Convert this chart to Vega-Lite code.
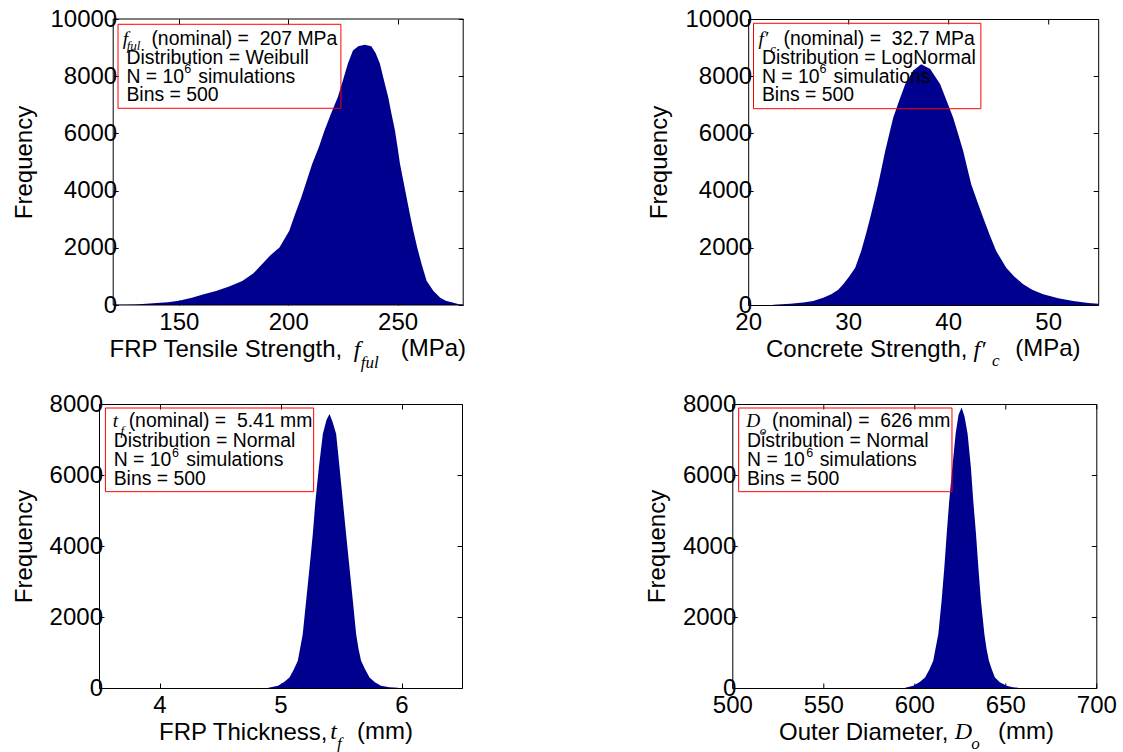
{
  "$schema": "https://vega.github.io/schema/vega-lite/v6.json",
  "background": "white",
  "padding": {"left": 11, "top": 6, "right": 5, "bottom": 5},
  "config": {
    "view": {"stroke": "#000000", "strokeWidth": 1},
    "font": "Liberation Sans",
    "axis": {"grid": false, "domain": false, "tickColor": "#000000", "tickSize": -5, "tickWidth": 1, "labelFont": "Liberation Sans", "labelFontSize": 24, "labelColor": "#000000", "labelFlush": false, "labelOverlap": false, "format": "d", "titleFont": "Liberation Sans", "titleFontSize": 24, "titleFontWeight": "normal", "titleColor": "#000000"},
    "axisX": {"labelPadding": 10},
    "axisY": {"labelPadding": 1.5},
    "text": {"font": "Liberation Sans", "color": "#000000"}
  },
  "datasets": {
    "ful": [
      {"value": 120, "frequency": 5}, {"value": 125, "frequency": 10}, {"value": 130, "frequency": 20}, {"value": 135, "frequency": 40}, {"value": 140, "frequency": 70}, {"value": 145, "frequency": 100}, {"value": 150, "frequency": 150}, {"value": 156, "frequency": 257}, {"value": 161, "frequency": 370}, {"value": 167, "frequency": 491}, {"value": 173, "frequency": 650}, {"value": 179, "frequency": 842}, {"value": 184, "frequency": 1100}, {"value": 188, "frequency": 1427}, {"value": 192, "frequency": 1750}, {"value": 196, "frequency": 2011}, {"value": 200.5, "frequency": 2596}, {"value": 203, "frequency": 3150}, {"value": 206, "frequency": 3765}, {"value": 208.5, "frequency": 4350}, {"value": 211, "frequency": 4937}, {"value": 214, "frequency": 5520}, {"value": 216.6, "frequency": 6105}, {"value": 219.6, "frequency": 6700}, {"value": 222.7, "frequency": 7275}, {"value": 225, "frequency": 7850}, {"value": 227.3, "frequency": 8446}, {"value": 229.6, "frequency": 8900}, {"value": 232, "frequency": 9050}, {"value": 235, "frequency": 9100}, {"value": 238, "frequency": 9050}, {"value": 240, "frequency": 8800}, {"value": 241.9, "frequency": 8446}, {"value": 243.8, "frequency": 7850}, {"value": 245.7, "frequency": 7275}, {"value": 247.2, "frequency": 6700}, {"value": 248.8, "frequency": 6105}, {"value": 250, "frequency": 5520}, {"value": 251.1, "frequency": 4937}, {"value": 252.6, "frequency": 4350}, {"value": 254.1, "frequency": 3765}, {"value": 255.6, "frequency": 3180}, {"value": 257.2, "frequency": 2596}, {"value": 259, "frequency": 2000}, {"value": 261, "frequency": 1427}, {"value": 263.3, "frequency": 842}, {"value": 266.4, "frequency": 491}, {"value": 269.5, "frequency": 257}, {"value": 272, "frequency": 150}, {"value": 275.6, "frequency": 80}, {"value": 278, "frequency": 30}, {"value": 280, "frequency": 10}
    ],
    "fc": [
      {"value": 22.5, "frequency": 10}, {"value": 24.2, "frequency": 40}, {"value": 25.5, "frequency": 90}, {"value": 26.5, "frequency": 140}, {"value": 27.5, "frequency": 250}, {"value": 28.3, "frequency": 374}, {"value": 29, "frequency": 530}, {"value": 29.5, "frequency": 724}, {"value": 30.1, "frequency": 1000}, {"value": 30.7, "frequency": 1304}, {"value": 31.3, "frequency": 1888}, {"value": 31.75, "frequency": 2450}, {"value": 32.2, "frequency": 3052}, {"value": 32.6, "frequency": 3630}, {"value": 33.0, "frequency": 4220}, {"value": 33.35, "frequency": 4800}, {"value": 33.7, "frequency": 5385}, {"value": 34.1, "frequency": 5970}, {"value": 34.5, "frequency": 6549}, {"value": 35.1, "frequency": 7150}, {"value": 35.7, "frequency": 7717}, {"value": 36.5, "frequency": 8200}, {"value": 37.3, "frequency": 8416}, {"value": 38.2, "frequency": 8250}, {"value": 39.2, "frequency": 7717}, {"value": 39.85, "frequency": 7130}, {"value": 40.5, "frequency": 6549}, {"value": 41, "frequency": 5970}, {"value": 41.5, "frequency": 5385}, {"value": 41.9, "frequency": 4800}, {"value": 42.3, "frequency": 4220}, {"value": 42.9, "frequency": 3630}, {"value": 43.5, "frequency": 3052}, {"value": 44.15, "frequency": 2450}, {"value": 44.8, "frequency": 1888}, {"value": 45.8, "frequency": 1304}, {"value": 46.6, "frequency": 1000}, {"value": 47.5, "frequency": 724}, {"value": 48.4, "frequency": 530}, {"value": 49.5, "frequency": 374}, {"value": 51, "frequency": 240}, {"value": 52.5, "frequency": 140}, {"value": 54, "frequency": 70}, {"value": 55, "frequency": 40}
    ],
    "tf": [
      {"value": 4.9, "frequency": 5}, {"value": 4.98, "frequency": 65}, {"value": 5.03, "frequency": 170}, {"value": 5.074, "frequency": 299}, {"value": 5.11, "frequency": 520}, {"value": 5.143, "frequency": 769}, {"value": 5.164, "frequency": 1150}, {"value": 5.184, "frequency": 1521}, {"value": 5.198, "frequency": 1990}, {"value": 5.212, "frequency": 2459}, {"value": 5.226, "frequency": 2928}, {"value": 5.24, "frequency": 3397}, {"value": 5.267, "frequency": 4338}, {"value": 5.289, "frequency": 5276}, {"value": 5.317, "frequency": 6214}, {"value": 5.35, "frequency": 7155}, {"value": 5.38, "frequency": 7550}, {"value": 5.405, "frequency": 7718}, {"value": 5.43, "frequency": 7500}, {"value": 5.46, "frequency": 7155}, {"value": 5.488, "frequency": 6214}, {"value": 5.515, "frequency": 5276}, {"value": 5.542, "frequency": 4338}, {"value": 5.57, "frequency": 3397}, {"value": 5.598, "frequency": 2459}, {"value": 5.625, "frequency": 1521}, {"value": 5.645, "frequency": 1100}, {"value": 5.666, "frequency": 769}, {"value": 5.7, "frequency": 520}, {"value": 5.736, "frequency": 299}, {"value": 5.78, "frequency": 160}, {"value": 5.83, "frequency": 65}, {"value": 5.9, "frequency": 20}, {"value": 5.97, "frequency": 5}
    ],
    "do": [
      {"value": 595, "frequency": 5}, {"value": 599.5, "frequency": 65}, {"value": 603, "frequency": 170}, {"value": 605.9, "frequency": 299}, {"value": 608.3, "frequency": 520}, {"value": 610.4, "frequency": 769}, {"value": 611.8, "frequency": 1150}, {"value": 613.2, "frequency": 1521}, {"value": 614.1, "frequency": 1990}, {"value": 615, "frequency": 2459}, {"value": 615.75, "frequency": 2928}, {"value": 616.5, "frequency": 3397}, {"value": 617.8, "frequency": 4338}, {"value": 619.2, "frequency": 5276}, {"value": 620.9, "frequency": 6214}, {"value": 622.7, "frequency": 7155}, {"value": 624.3, "frequency": 7700}, {"value": 626, "frequency": 7904}, {"value": 627.6, "frequency": 7650}, {"value": 629.3, "frequency": 7155}, {"value": 631.1, "frequency": 6214}, {"value": 632.4, "frequency": 5276}, {"value": 633.9, "frequency": 4338}, {"value": 635.2, "frequency": 3397}, {"value": 636.6, "frequency": 2459}, {"value": 638.5, "frequency": 1521}, {"value": 639.7, "frequency": 1100}, {"value": 641, "frequency": 769}, {"value": 642.6, "frequency": 520}, {"value": 644.3, "frequency": 299}, {"value": 647, "frequency": 160}, {"value": 650.7, "frequency": 65}, {"value": 654, "frequency": 20}, {"value": 657, "frequency": 5}
    ]
  },
  "spacing": 19,
  "vconcat": [
    {
      "spacing": 180.2,
      "hconcat": [
        {
          "width": 364.2, "height": 286,
          "view": {"stroke": null},
          "resolve": {"axis": {"x": "independent", "y": "independent"}},
          "layer": [
            {
              "layer": [
                {"data": {"name": "ful"}, "mark": {"type": "area", "color": "#00008F", "interpolate": "linear"},
                 "encoding": {
                   "x": {"field": "value", "type": "quantitative", "scale": {"domain": [113.51, 280], "nice": false, "zero": false}, "axis": {"values": [150, 200, 250], "title": "FRP Tensile Strength,", "titleAlign": "right", "titleX": 242.7, "titleY": 51, "titleBaseline": "alphabetic"}},
                   "y": {"field": "frequency", "type": "quantitative", "scale": {"domain": [0, 10000], "nice": false}, "axis": {"values": [0, 2000, 4000, 6000, 8000, 10000], "title": "Frequency", "titlePadding": 13, "offset": -14.2}}
                 }},
                {"data": {"values": [{}]}, "mark": {"type": "rect", "fill": "#ffffff", "fillOpacity": 0, "stroke": "#000000", "strokeWidth": 1},
                 "encoding": {"x": {"datum": 120}, "x2": {"datum": 280}, "y": {"datum": 0}, "y2": {"datum": 10000}}},
                {"data": {"values": [{}]}, "mark": {"type": "rect", "fill": "#ffffff", "fillOpacity": 0, "stroke": "#ff0000", "strokeWidth": 1},
                 "encoding": {"x": {"datum": 122.2}, "x2": {"datum": 224.1}, "y": {"datum": 9815}, "y2": {"datum": 6878}}},
                {"data": {"values": [{}]}, "mark": {"type": "text", "text": "f", "font": "Liberation Serif", "fontStyle": "italic", "fontSize": 19.4, "align": "left", "baseline": "alphabetic"},
                 "encoding": {"x": {"datum": 124.34}, "y": {"datum": 9091}}},
                {"data": {"values": [{}]}, "mark": {"type": "text", "text": "ful", "font": "Liberation Serif", "fontStyle": "italic", "fontSize": 13, "align": "left", "baseline": "alphabetic"},
                 "encoding": {"x": {"datum": 126.2}, "y": {"datum": 8916}}},
                {"data": {"values": [{}]}, "mark": {"type": "text", "text": "(nominal) =\u00a0 207 MPa", "fontSize": 19.4, "align": "left", "baseline": "alphabetic"},
                 "encoding": {"x": {"datum": 137.46}, "y": {"datum": 9080}}},
                {"data": {"values": [{}]}, "mark": {"type": "text", "text": ["Distribution = Weibull", "N = 10", "Bins = 500"], "lineHeight": 18.6, "fontSize": 19.4, "align": "left", "baseline": "alphabetic"},
                 "encoding": {"x": {"datum": 126.03}, "y": {"datum": 8416}}},
                {"data": {"values": [{}]}, "mark": {"type": "text", "text": "6", "fontSize": 12.5, "align": "left", "baseline": "alphabetic"},
                 "encoding": {"x": {"datum": 152.46}, "y": {"datum": 8122}}},
                {"data": {"values": [{}]}, "mark": {"type": "text", "text": "simulations", "fontSize": 19.4, "align": "left", "baseline": "alphabetic"},
                 "encoding": {"x": {"datum": 158.86}, "y": {"datum": 7773}}},
                {"data": {"values": [{}]}, "mark": {"type": "text", "text": "f", "font": "Liberation Serif", "fontStyle": "italic", "fontSize": 24, "align": "left", "baseline": "alphabetic"},
                 "encoding": {"x": {"datum": 229.94}, "y": {"datum": -1818}}},
                {"data": {"values": [{}]}, "mark": {"type": "text", "text": "ful", "font": "Liberation Serif", "fontStyle": "italic", "fontSize": 17, "align": "left", "baseline": "alphabetic"},
                 "encoding": {"x": {"datum": 233.14}, "y": {"datum": -2203}}},
                {"data": {"values": [{}]}, "mark": {"type": "text", "text": "(MPa)", "fontSize": 24, "align": "left", "baseline": "alphabetic"},
                 "encoding": {"x": {"datum": 251.43}, "y": {"datum": -1783}}}
              ]
            },
            {"data": {"values": [{}]}, "mark": {"type": "point", "opacity": 0},
             "encoding": {
               "x": {"datum": 200, "type": "quantitative", "axis": {"orient": "top", "values": [150, 200, 250], "labels": false, "title": null}},
               "y": {"datum": 5000, "type": "quantitative", "axis": {"orient": "right", "values": [0, 2000, 4000, 6000, 8000, 10000], "labels": false, "title": null}}
             }}
          ]
        },
        {
          "width": 350, "height": 286,
          "resolve": {"axis": {"x": "independent", "y": "independent"}},
          "layer": [
            {
              "layer": [
                {"data": {"name": "fc"}, "mark": {"type": "area", "color": "#00008F", "interpolate": "linear"},
                 "encoding": {
                   "x": {"field": "value", "type": "quantitative", "scale": {"domain": [20, 55], "nice": false, "zero": false}, "axis": {"values": [20, 30, 40, 50], "title": "Concrete Strength,", "titleAlign": "right", "titleX": 218.7, "titleY": 51, "titleBaseline": "alphabetic"}},
                   "y": {"field": "frequency", "type": "quantitative", "scale": {"domain": [0, 10000], "nice": false}, "axis": {"values": [0, 2000, 4000, 6000, 8000, 10000], "title": "Frequency", "titlePadding": 13}}
                 }},
                {"data": {"values": [{}]}, "mark": {"type": "rect", "fill": "#ffffff", "fillOpacity": 0, "stroke": "#ff0000", "strokeWidth": 1},
                 "encoding": {"x": {"datum": 20.53}, "x2": {"datum": 43.27}, "y": {"datum": 9850}, "y2": {"datum": 6864}}},
                {"data": {"values": [{}]}, "mark": {"type": "text", "text": "f\u2032", "font": "Liberation Serif", "fontStyle": "italic", "fontSize": 19.4, "align": "left", "baseline": "alphabetic"},
                 "encoding": {"x": {"datum": 21.03}, "y": {"datum": 9080}}},
                {"data": {"values": [{}]}, "mark": {"type": "text", "text": "c", "font": "Liberation Serif", "fontStyle": "italic", "fontSize": 13, "align": "left", "baseline": "alphabetic"},
                 "encoding": {"x": {"datum": 22.2}, "y": {"datum": 8822}}},
                {"data": {"values": [{}]}, "mark": {"type": "text", "text": "(nominal) =\u00a0 32.7 MPa", "fontSize": 19.4, "align": "left", "baseline": "alphabetic"},
                 "encoding": {"x": {"datum": 23.53}, "y": {"datum": 9080}}},
                {"data": {"values": [{}]}, "mark": {"type": "text", "text": ["Distribution = LogNormal", "N = 10", "Bins = 500"], "lineHeight": 18.6, "fontSize": 19.4, "align": "left", "baseline": "alphabetic"},
                 "encoding": {"x": {"datum": 21.37}, "y": {"datum": 8416}}},
                {"data": {"values": [{}]}, "mark": {"type": "text", "text": "6", "fontSize": 12.5, "align": "left", "baseline": "alphabetic"},
                 "encoding": {"x": {"datum": 27.13}, "y": {"datum": 8122}}},
                {"data": {"values": [{}]}, "mark": {"type": "text", "text": "simulations", "fontSize": 19.4, "align": "left", "baseline": "alphabetic"},
                 "encoding": {"x": {"datum": 28.53}, "y": {"datum": 7773}}},
                {"data": {"values": [{}]}, "mark": {"type": "text", "text": "f\u2032", "font": "Liberation Serif", "fontStyle": "italic", "fontSize": 24, "align": "left", "baseline": "alphabetic"},
                 "encoding": {"x": {"datum": 42.53}, "y": {"datum": -1818}}},
                {"data": {"values": [{}]}, "mark": {"type": "text", "text": "c", "font": "Liberation Serif", "fontStyle": "italic", "fontSize": 17, "align": "left", "baseline": "alphabetic"},
                 "encoding": {"x": {"datum": 44.37}, "y": {"datum": -2133}}},
                {"data": {"values": [{}]}, "mark": {"type": "text", "text": "(MPa)", "fontSize": 24, "align": "left", "baseline": "alphabetic"},
                 "encoding": {"x": {"datum": 46.7}, "y": {"datum": -1783}}}
              ]
            },
            {"data": {"values": [{}]}, "mark": {"type": "point", "opacity": 0},
             "encoding": {
               "x": {"datum": 30, "type": "quantitative", "axis": {"orient": "top", "values": [20, 30, 40, 50], "labels": false, "title": null}},
               "y": {"datum": 5000, "type": "quantitative", "axis": {"orient": "right", "values": [0, 2000, 4000, 6000, 8000, 10000], "labels": false, "title": null}}
             }}
          ]
        }
      ]
    },
    {
      "spacing": 181.3,
      "hconcat": [
        {
          "width": 363, "height": 284,
          "resolve": {"axis": {"x": "independent", "y": "independent"}},
          "layer": [
            {
              "layer": [
                {"data": {"name": "tf"}, "mark": {"type": "area", "color": "#00008F", "interpolate": "linear"},
                 "encoding": {
                   "x": {"field": "value", "type": "quantitative", "scale": {"domain": [3.5, 6.5], "nice": false, "zero": false}, "axis": {"values": [4, 5, 6], "title": "FRP Thickness,", "titleAlign": "right", "titleX": 228, "titleY": 51, "titleBaseline": "alphabetic"}},
                   "y": {"field": "frequency", "type": "quantitative", "scale": {"domain": [0, 8000], "nice": false}, "axis": {"values": [0, 2000, 4000, 6000, 8000], "title": "Frequency", "titlePadding": 13}}
                 }},
                {"data": {"values": [{}]}, "mark": {"type": "rect", "fill": "#ffffff", "fillOpacity": 0, "stroke": "#ff0000", "strokeWidth": 1},
                 "encoding": {"x": {"datum": 3.553}, "x2": {"datum": 5.274}, "y": {"datum": 7887}, "y2": {"datum": 5530}}},
                {"data": {"values": [{}]}, "mark": {"type": "text", "text": "t", "font": "Liberation Serif", "fontStyle": "italic", "fontSize": 19.4, "align": "left", "baseline": "alphabetic"},
                 "encoding": {"x": {"datum": 3.613}, "y": {"datum": 7341}}},
                {"data": {"values": [{}]}, "mark": {"type": "text", "text": "f", "font": "Liberation Serif", "fontStyle": "italic", "fontSize": 13, "align": "left", "baseline": "alphabetic"},
                 "encoding": {"x": {"datum": 3.677}, "y": {"datum": 7135}}},
                {"data": {"values": [{}]}, "mark": {"type": "text", "text": "(nominal) =\u00a0 5.41 mm", "fontSize": 19.4, "align": "left", "baseline": "alphabetic"},
                 "encoding": {"x": {"datum": 3.745}, "y": {"datum": 7341}}},
                {"data": {"values": [{}]}, "mark": {"type": "text", "text": ["Distribution = Normal", "N = 10", "Bins = 500"], "lineHeight": 18.6, "fontSize": 19.4, "align": "left", "baseline": "alphabetic"},
                 "encoding": {"x": {"datum": 3.621}, "y": {"datum": 6777}}},
                {"data": {"values": [{}]}, "mark": {"type": "text", "text": "6", "fontSize": 12.5, "align": "left", "baseline": "alphabetic"},
                 "encoding": {"x": {"datum": 4.103}, "y": {"datum": 6515}}},
                {"data": {"values": [{}]}, "mark": {"type": "text", "text": "simulations", "fontSize": 19.4, "align": "left", "baseline": "alphabetic"},
                 "encoding": {"x": {"datum": 4.222}, "y": {"datum": 6262}}},
                {"data": {"values": [{}]}, "mark": {"type": "text", "text": "t", "font": "Liberation Serif", "fontStyle": "italic", "fontSize": 24, "align": "left", "baseline": "alphabetic"},
                 "encoding": {"x": {"datum": 5.412}, "y": {"datum": -1437}}},
                {"data": {"values": [{}]}, "mark": {"type": "text", "text": "f", "font": "Liberation Serif", "fontStyle": "italic", "fontSize": 17, "align": "left", "baseline": "alphabetic"},
                 "encoding": {"x": {"datum": 5.467}, "y": {"datum": -1718}}},
                {"data": {"values": [{}]}, "mark": {"type": "text", "text": "(mm)", "fontSize": 24, "align": "left", "baseline": "alphabetic"},
                 "encoding": {"x": {"datum": 5.632}, "y": {"datum": -1437}}}
              ]
            },
            {"data": {"values": [{}]}, "mark": {"type": "point", "opacity": 0},
             "encoding": {
               "x": {"datum": 5, "type": "quantitative", "axis": {"orient": "top", "values": [4, 5, 6], "labels": false, "title": null}},
               "y": {"datum": 4000, "type": "quantitative", "axis": {"orient": "right", "values": [0, 2000, 4000, 6000, 8000], "labels": false, "title": null}}
             }}
          ]
        },
        {
          "width": 364, "height": 284,
          "resolve": {"axis": {"x": "independent", "y": "independent"}},
          "layer": [
            {
              "layer": [
                {"data": {"name": "do"}, "mark": {"type": "area", "color": "#00008F", "interpolate": "linear"},
                 "encoding": {
                   "x": {"field": "value", "type": "quantitative", "scale": {"domain": [500, 700], "nice": false, "zero": false}, "axis": {"values": [500, 550, 600, 650, 700], "title": "Outer Diameter,", "titleAlign": "right", "titleX": 215.7, "titleY": 51, "titleBaseline": "alphabetic"}},
                   "y": {"field": "frequency", "type": "quantitative", "scale": {"domain": [0, 8000], "nice": false}, "axis": {"values": [0, 2000, 4000, 6000, 8000], "title": "Frequency", "titlePadding": 13}}
                 }},
                {"data": {"values": [{}]}, "mark": {"type": "rect", "fill": "#ffffff", "fillOpacity": 0, "stroke": "#ff0000", "strokeWidth": 1},
                 "encoding": {"x": {"datum": 503.5}, "x2": {"datum": 620.7}, "y": {"datum": 7887}, "y2": {"datum": 5530}}},
                {"data": {"values": [{}]}, "mark": {"type": "text", "text": "D", "font": "Liberation Serif", "fontStyle": "italic", "fontSize": 19.4, "align": "left", "baseline": "alphabetic"},
                 "encoding": {"x": {"datum": 507.7}, "y": {"datum": 7341}}},
                {"data": {"values": [{}]}, "mark": {"type": "text", "text": "o", "font": "Liberation Serif", "fontStyle": "italic", "fontSize": 13, "align": "left", "baseline": "alphabetic"},
                 "encoding": {"x": {"datum": 515.1}, "y": {"datum": 7135}}},
                {"data": {"values": [{}]}, "mark": {"type": "text", "text": "(nominal) =\u00a0 626 mm", "fontSize": 19.4, "align": "left", "baseline": "alphabetic"},
                 "encoding": {"x": {"datum": 521.8}, "y": {"datum": 7341}}},
                {"data": {"values": [{}]}, "mark": {"type": "text", "text": ["Distribution = Normal", "N = 10", "Bins = 500"], "lineHeight": 18.6, "fontSize": 19.4, "align": "left", "baseline": "alphabetic"},
                 "encoding": {"x": {"datum": 508.1}, "y": {"datum": 6777}}},
                {"data": {"values": [{}]}, "mark": {"type": "text", "text": "6", "fontSize": 12.5, "align": "left", "baseline": "alphabetic"},
                 "encoding": {"x": {"datum": 540.7}, "y": {"datum": 6515}}},
                {"data": {"values": [{}]}, "mark": {"type": "text", "text": "simulations", "fontSize": 19.4, "align": "left", "baseline": "alphabetic"},
                 "encoding": {"x": {"datum": 548}, "y": {"datum": 6262}}},
                {"data": {"values": [{}]}, "mark": {"type": "text", "text": "D", "font": "Liberation Serif", "fontStyle": "italic", "fontSize": 24, "align": "left", "baseline": "alphabetic"},
                 "encoding": {"x": {"datum": 622.2}, "y": {"datum": -1437}}},
                {"data": {"values": [{}]}, "mark": {"type": "text", "text": "o", "font": "Liberation Serif", "fontStyle": "italic", "fontSize": 17, "align": "left", "baseline": "alphabetic"},
                 "encoding": {"x": {"datum": 631.3}, "y": {"datum": -1718}}},
                {"data": {"values": [{}]}, "mark": {"type": "text", "text": "(mm)", "fontSize": 24, "align": "left", "baseline": "alphabetic"},
                 "encoding": {"x": {"datum": 646}, "y": {"datum": -1437}}}
              ]
            },
            {"data": {"values": [{}]}, "mark": {"type": "point", "opacity": 0},
             "encoding": {
               "x": {"datum": 600, "type": "quantitative", "axis": {"orient": "top", "values": [500, 550, 600, 650, 700], "labels": false, "title": null}},
               "y": {"datum": 4000, "type": "quantitative", "axis": {"orient": "right", "values": [0, 2000, 4000, 6000, 8000], "labels": false, "title": null}}
             }}
          ]
        }
      ]
    }
  ]
}
